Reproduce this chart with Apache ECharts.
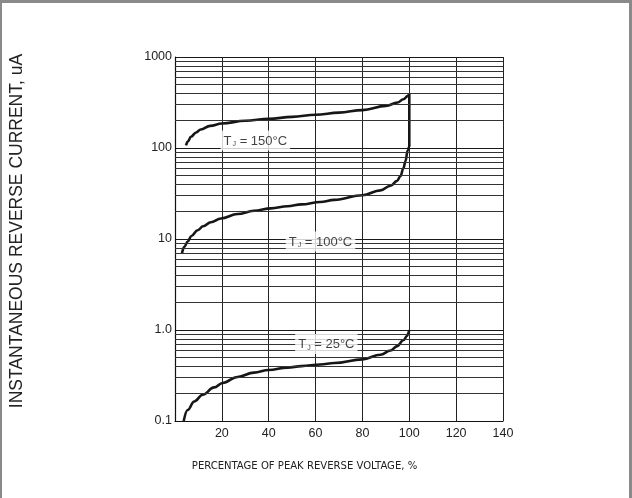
<!DOCTYPE html>
<html><head><meta charset="utf-8">
<script src="https://cdn.jsdelivr.net/npm/echarts@6/dist/echarts.min.js"></script>
<style>
html,body{margin:0;padding:0;background:#fff;}
#chart{position:absolute;left:0;top:0;width:632px;height:498px;}
#frame{position:absolute;left:0;top:0;width:632px;height:498px;box-sizing:border-box;border-top:3px solid #8a8a8a;border-left:2px solid #8a8a8a;border-right:3px solid #8a8a8a;pointer-events:none;}
</style></head><body>
<div id="chart"></div><div id="frame"></div>
<script>
// ---- data ----
const xTicks = [0, 20, 40, 60, 80, 100, 120, 140];
const yTickLabels = ['0.1', '1.0', '10', '100', '1000'];
const minorGridValues = [0.2,0.3,0.4,0.5,0.6,0.7,0.8,0.9, 2,3,4,5,6,7,8,9, 20,30,40,50,60,70,80,90, 200,300,400,500,600,700,800,900];
const curve150 = [[4.7,107],[5.5,118],[6.8,133],[9,148],[11,160],[15,175],[20,186],[30,199],[40,209],[50,220],[60,232],[70,245],[80,261],[90,290],[95,316],[97.5,343],[99.3,372],[100,398]];
const curve100 = [[3,7],[4,8.2],[5.4,9.4],[7,10.8],[9.7,12.5],[12,13.8],[15.3,15.3],[19.6,16.8],[26.7,18.8],[33.7,20.4],[41,21.7],[48,22.9],[54,24.0],[62,25.5],[68,26.9],[80,30.3],[87.7,34.2],[92,38.5],[94.8,43.5],[96.2,49],[97.5,60],[98.4,72],[99.3,94],[100,104],[100,398]];
const curve25 = [[3.7,0.1],[5.4,0.132],[8.2,0.164],[11.8,0.194],[16.7,0.234],[20.3,0.262],[26.7,0.305],[33.7,0.340],[40,0.363],[48,0.386],[54,0.401],[62,0.418],[68,0.434],[80,0.476],[87.7,0.535],[92,0.595],[94.8,0.665],[97.6,0.776],[99,0.86],[100,1.0]];
const curveLabels = [
  {pos:[34.3,121], temp:'150'},
  {pos:[62.1,9.4], temp:'100'},
  {pos:[64.6,0.70], temp:'25'}
];
const xTitle = 'PERCENTAGE OF PEAK REVERSE VOLTAGE, %';
const yTitle = 'INSTANTANEOUS REVERSE CURRENT, uA';

// ---- chart ----
const chart = echarts.init(document.getElementById('chart'), null, {renderer:'canvas'});
const curveStyle = {color:'#161616', width:2.6};
const mkCurve = (d) => ({type:'line', data:d, showSymbol:false, symbol:'none', smooth:0.4, smoothMonotone:'x', lineStyle:curveStyle, z:3, silent:true});
chart.setOption({
  animation:false,
  backgroundColor:'#fff',
  grid:{left:174, top:57, width:329, height:364, containLabel:false},
  xAxis:{type:'value', min:xTicks[0], max:xTicks[xTicks.length-1], interval:20,
    axisLine:{show:true, onZero:false, lineStyle:{color:'#111', width:1.2}},
    axisTick:{show:false},
    axisLabel:{formatter:v => v===0 ? '' : String(v), fontSize:12.5, color:'#222', margin:6, fontFamily:'Liberation Sans, Arial, sans-serif'},
    splitLine:{show:true, lineStyle:{color:'#222', width:1}},
    name:xTitle, nameLocation:'middle', nameGap:40,
    nameTextStyle:{fontSize:11.2, color:'#222', fontFamily:"'Liberation Sans Narrow','DejaVu Sans Condensed',sans-serif", padding:[0,69,0,0]}
  },
  yAxis:{type:'log', logBase:10, min:0.1, max:1000,
    axisLine:{show:true, onZero:false, lineStyle:{color:'#111', width:1.2}},
    axisTick:{show:false},
    axisLabel:{formatter:v => yTickLabels[Math.round(Math.log10(v)) + 1] || '', fontSize:12.5, color:'#222', margin:3, fontFamily:'Liberation Sans, Arial, sans-serif'},
    splitLine:{show:true, lineStyle:{color:'#1a1a1a', width:1}},
    minorTick:{show:false}, minorSplitLine:{show:false},
    name:yTitle, nameLocation:'middle', nameGap:149,
    nameTextStyle:{fontSize:17.5, color:'#222', fontFamily:'Liberation Sans, Arial, sans-serif', padding:[0,0,0,16]}
  },
  series:[
    {type:'line', data:[], z:1, silent:true,
      markLine:{silent:true, symbol:['none','none'], label:{show:false}, animation:false,
        lineStyle:{color:'#333', width:1, type:'solid'},
        data:minorGridValues.map(v => ({yAxis:v}))}},
    mkCurve(curve150),
    mkCurve(curve100),
    mkCurve(curve25),
    {type:'scatter', z:10, silent:true, symbolSize:0,
      data:curveLabels.map(l => ({value:l.pos, temp:l.temp})),
      label:{show:true, position:'inside', backgroundColor:'#fff', padding:[4,3,3,3],
        formatter:p => 'T{s|J} = ' + p.data.temp + '°C',
        fontSize:13, color:'#111', fontFamily:'Liberation Sans, Arial, sans-serif',
        rich:{s:{fontSize:7, verticalAlign:'bottom', padding:[6,0,0,1], color:'#111'}}}}
  ]
});
</script>
</body></html>
